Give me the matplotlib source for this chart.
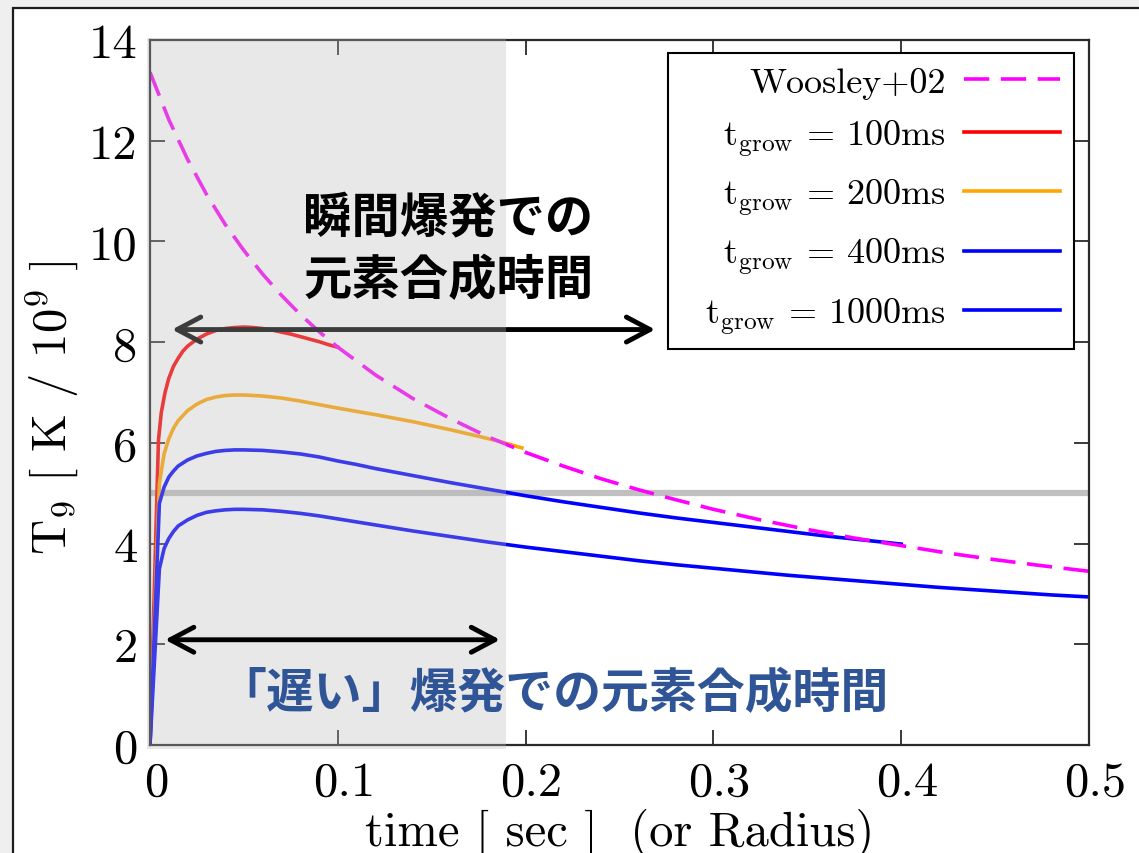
import matplotlib
matplotlib.use("Agg")
import matplotlib.pyplot as plt
import matplotlib.transforms as mtransforms
from matplotlib.patches import Rectangle, FancyArrowPatch

plt.rcParams["font.family"] = ["cmr10"]
plt.rcParams["mathtext.fontset"] = "cm"
plt.rcParams["axes.formatter.use_mathtext"] = True

# ---- data -------------------------------------------------------------
# Woosley+02 instantaneous-explosion trajectory
t_woosley = [0.000, 0.010, 0.020, 0.030, 0.040, 0.050, 0.060, 0.070, 0.080,
             0.090, 0.100, 0.120, 0.140, 0.160, 0.180, 0.200, 0.220, 0.240,
             0.260, 0.280, 0.300, 0.325, 0.350, 0.375, 0.400, 0.425, 0.450,
             0.475, 0.500]
T_woosley = [13.36, 12.42, 11.63, 10.94, 10.34, 9.82, 9.35, 8.93, 8.55,
             8.21, 7.90, 7.35, 6.88, 6.48, 6.12, 5.81, 5.54, 5.29,
             5.07, 4.87, 4.68, 4.47, 4.28, 4.11, 3.96, 3.81, 3.68,
             3.56, 3.45]

# t_grow = 100 ms
t_100 = [0.000, 0.0045, 0.006, 0.008, 0.010, 0.0125, 0.015, 0.0175, 0.020,
         0.025, 0.030, 0.035, 0.040, 0.045, 0.050, 0.055, 0.060, 0.065,
         0.070, 0.075, 0.080, 0.085, 0.090, 0.095, 0.100]
T_100 = [0.00, 6.05, 6.60, 7.00, 7.28, 7.52, 7.68, 7.82, 7.92,
         8.06, 8.16, 8.23, 8.27, 8.29, 8.30, 8.29, 8.27, 8.24,
         8.20, 8.16, 8.11, 8.06, 8.01, 7.95, 7.90]

# t_grow = 200 ms
t_200 = [0.000, 0.005, 0.0075, 0.010, 0.0125, 0.015, 0.020, 0.025, 0.030,
         0.035, 0.040, 0.045, 0.050, 0.060, 0.070, 0.080, 0.090, 0.100,
         0.120, 0.140, 0.160, 0.175, 0.186, 0.198]
T_200 = [0.00, 5.20, 5.78, 6.08, 6.29, 6.44, 6.64, 6.77, 6.86,
         6.91, 6.94, 6.95, 6.95, 6.93, 6.89, 6.83, 6.76, 6.69,
         6.56, 6.42, 6.26, 6.13, 6.03, 5.90]

# t_grow = 400 ms
t_400 = [0.000, 0.005, 0.0075, 0.010, 0.0125, 0.015, 0.020, 0.025, 0.030,
         0.035, 0.040, 0.045, 0.050, 0.060, 0.070, 0.080, 0.090, 0.100,
         0.110, 0.120, 0.140, 0.160, 0.180, 0.200, 0.220, 0.240, 0.260,
         0.280, 0.300, 0.320, 0.340, 0.360, 0.380, 0.400]
T_400 = [0.00, 4.80, 5.12, 5.32, 5.44, 5.54, 5.66, 5.74, 5.79,
         5.83, 5.85, 5.86, 5.86, 5.85, 5.82, 5.78, 5.72, 5.64,
         5.57, 5.49, 5.35, 5.21, 5.08, 4.95, 4.83, 4.72, 4.61,
         4.51, 4.42, 4.33, 4.24, 4.15, 4.07, 3.99]

# t_grow = 1000 ms
t_1000 = [0.000, 0.005, 0.0075, 0.010, 0.0125, 0.015, 0.020, 0.025, 0.030,
          0.035, 0.040, 0.045, 0.050, 0.060, 0.070, 0.080, 0.090, 0.100,
          0.120, 0.140, 0.160, 0.180, 0.200, 0.220, 0.240, 0.260, 0.280,
          0.300, 0.320, 0.340, 0.360, 0.380, 0.400, 0.420, 0.440, 0.460,
          0.480, 0.500]
T_1000 = [0.00, 3.50, 3.90, 4.10, 4.24, 4.35, 4.47, 4.56, 4.62,
          4.65, 4.67, 4.68, 4.68, 4.67, 4.64, 4.60, 4.55, 4.49,
          4.37, 4.25, 4.14, 4.03, 3.93, 3.84, 3.75, 3.66, 3.58,
          3.51, 3.44, 3.37, 3.31, 3.25, 3.19, 3.13, 3.08, 3.03,
          2.98, 2.94]

series_labels = ["Woosley+02",
                 r"$\mathrm{t_{grow}}$ = 100ms",
                 r"$\mathrm{t_{grow}}$ = 200ms",
                 r"$\mathrm{t_{grow}}$ = 400ms",
                 r"  $\mathrm{t_{grow}}$ = 1000ms"]

x_ticks = [0.0, 0.1, 0.2, 0.3, 0.4, 0.5]
x_tick_labels = ["0", "0.1", "0.2", "0.3", "0.4", "0.5"]
y_ticks = [0, 2, 4, 6, 8, 10, 12, 14]
y_tick_labels = ["0", "2", "4", "6", "8", "10", "12", "14"]

T_threshold = 5.0          # NSE threshold line
slow_window_end = 0.1894   # end of the slow-explosion nucleosynthesis window

# ---- figure -----------------------------------------------------------
W, H = 1139, 854
fig = plt.figure(figsize=(W / 100, H / 100), dpi=100)
fig.patch.set_facecolor("#efefef")
panel = Rectangle((13 / W, -0.05), 1.2, 1 - 9 / H + 0.05,
                  transform=fig.transFigure, facecolor="white",
                  edgecolor="#1c1c1c", lw=1.6, zorder=-10)
fig.add_artist(panel)

ax = fig.add_axes([150 / W, 1 - 746 / H, 939 / W, 705 / H])
ax.set_facecolor("white")
ax.set_xlim(0, 0.5)
ax.set_ylim(0, 14)

lw = 2.6
ax.axhline(T_threshold, color="#c0c0c0", lw=4.5, zorder=1.5)
l_w, = ax.plot(t_woosley, T_woosley, color="#ff00ff", lw=lw,
               dashes=(7, 3.2), zorder=2.2)
l_1, = ax.plot(t_100, T_100, color="#ff0000", lw=lw, zorder=2.1)
l_2, = ax.plot(t_200, T_200, color="#ffa500", lw=lw, zorder=2.1)
l_4, = ax.plot(t_400, T_400, color="#0000ff", lw=lw, zorder=2.1)
l_10, = ax.plot(t_1000, T_1000, color="#0000ff", lw=lw, zorder=2.1)

ax.set_xticks(x_ticks, labels=x_tick_labels)
ax.set_yticks(y_ticks, labels=y_tick_labels)
ax.tick_params(direction="in", length=11, width=1.3, colors="#2a2a2a",
               labelcolor="black", labelsize=35, top=True, right=True)
ax.tick_params(axis="x", pad=11)
ax.tick_params(axis="y", pad=9)
for s in ax.spines.values():
    s.set_linewidth(1.6)
    s.set_color("#2a2a2a")

shift = mtransforms.ScaledTranslation(0.06, 0, fig.dpi_scale_trans)
for lbl in ax.get_xticklabels():
    lbl.set_transform(lbl.get_transform() + shift)

ax.set_xlabel("time [ sec ]  (or Radius)", fontsize=35, va="center")
ax.xaxis.set_label_coords(0.5, -0.124)
ax.set_ylabel(r"$\mathrm{T_9}$ [ K / 10$^9$ ]", fontsize=35, va="center")
ax.yaxis.set_label_coords(-0.104, 0.48)

leg = ax.legend([l_w, l_1, l_2, l_4, l_10], series_labels,
                loc="upper right", bbox_to_anchor=(0.984, 0.9816),
                borderaxespad=0, markerfirst=False, fontsize=26,
                handlelength=2.66, handletextpad=0.5, borderpad=0.38,
                labelspacing=0.52, fancybox=False, framealpha=1,
                edgecolor="black")
leg.get_frame().set_linewidth(1.5)
leg.set_zorder(7)

# arrow for the instantaneous-explosion window (under the shaded band)
arrow_top = FancyArrowPatch((0.0117, 8.25), (0.269, 8.25),
                            arrowstyle="<->,head_length=17,head_width=9",
                            mutation_scale=1, shrinkA=0, shrinkB=0,
                            color="black", lw=3.5, capstyle="round",
                            joinstyle="round", zorder=3, clip_on=False)
ax.add_patch(arrow_top)

# shaded band marking the slow-explosion window
band = Rectangle((-0.0017, -0.08), slow_window_end + 0.0017, 14.12,
                 facecolor="#b9b9b9", edgecolor="none", alpha=0.325,
                 zorder=4, clip_on=False)
ax.add_patch(band)

arrow_low = FancyArrowPatch((0.008, 2.09), (0.1864, 2.09),
                            arrowstyle="<->,head_length=17,head_width=9",
                            mutation_scale=1, shrinkA=0, shrinkB=0,
                            color="black", lw=3.5, capstyle="round",
                            joinstyle="round", zorder=5)
ax.add_patch(arrow_low)

jp = ["Noto Sans CJK JP", "DejaVu Sans"]
ax.text(0.0815, 10.48, "瞬間爆発での", family=jp, weight="bold",
        fontsize=34.8, color="black", ha="left", va="center", zorder=6)
ax.text(0.0815, 9.25, "元素合成時間", family=jp, weight="bold",
        fontsize=34.8, color="black", ha="left", va="center", zorder=6)
ax.text(0.3935, 1.05, "「遅い」爆発での元素合成時間", family=jp,
        weight="bold", fontsize=34.5, color="#2f5597", ha="right",
        va="center", zorder=6)

fig.savefig("out.png", dpi=100, facecolor=fig.get_facecolor())
